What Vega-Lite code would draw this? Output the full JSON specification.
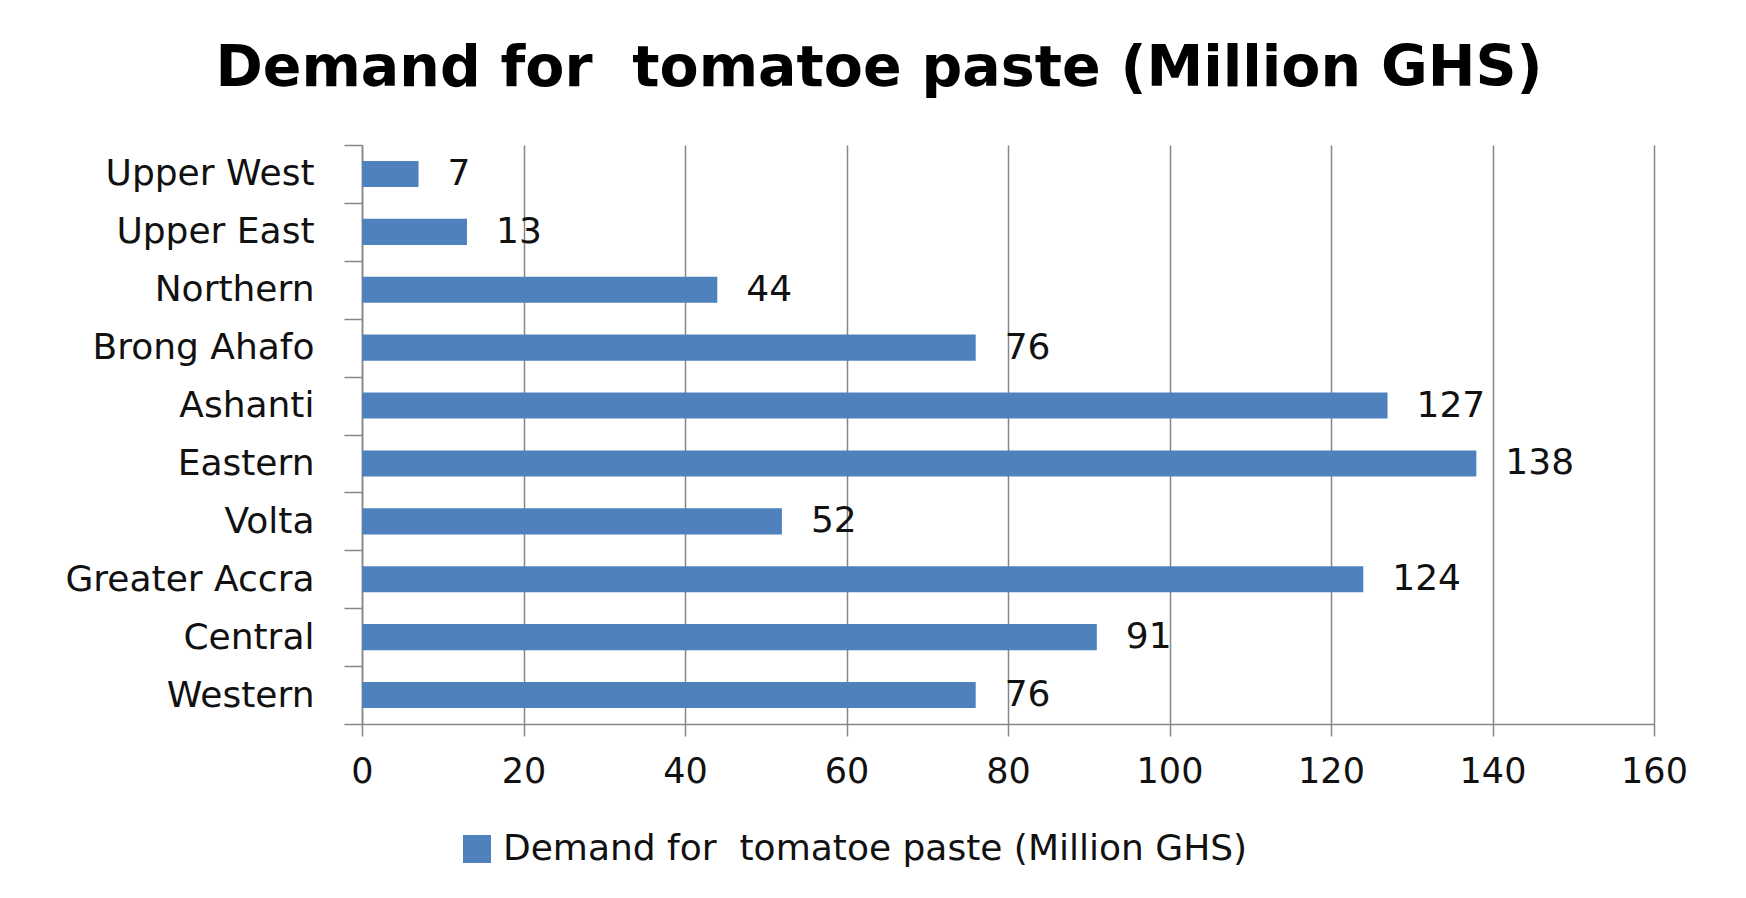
{
  "$schema": "https://vega.github.io/schema/vega-lite/v6.json",
  "width": 1292,
  "height": 579,
  "autosize": {"type": "none"},
  "padding": {"left": 362, "top": 145, "right": 92, "bottom": 174},
  "background": "white",
  "config": {"view": {"stroke": null}},
  "title": {
    "text": "Demand for\u00a0 tomatoe paste (Million GHS)",
    "font": "DejaVu Sans",
    "fontWeight": "bold",
    "fontSize": 57,
    "anchor": "middle",
    "dx": -129,
    "dy": 72,
    "baseline": "bottom",
    "offset": 44,
    "color": "black"
  },
  "data": {
    "values": [
      {"region": "Upper West", "demand": 7},
      {"region": "Upper East", "demand": 13},
      {"region": "Northern", "demand": 44},
      {"region": "Brong Ahafo", "demand": 76},
      {"region": "Ashanti", "demand": 127},
      {"region": "Eastern", "demand": 138},
      {"region": "Volta", "demand": 52},
      {"region": "Greater Accra", "demand": 124},
      {"region": "Central", "demand": 91},
      {"region": "Western", "demand": 76}
    ]
  },
  "encoding": {
    "y": {
      "field": "region",
      "type": "nominal",
      "sort": null,
      "scale": {"paddingInner": 0, "paddingOuter": 0},
      "axis": {
        "title": null,
        "tickBand": "extent",
        "tickSize": 18,
        "tickColor": "#868686",
        "tickWidth": 1.5,
        "domainColor": "#868686",
        "domainWidth": 1.5,
        "labelPadding": 30,
        "labelFont": "DejaVu Sans",
        "labelFontSize": 36,
        "labelColor": "#111111",
        "labelLimit": 0,
        "grid": false
      }
    },
    "x": {
      "field": "demand",
      "type": "quantitative",
      "scale": {"domain": [0, 160]},
      "axis": {
        "title": null,
        "values": [0, 20, 40, 60, 80, 100, 120, 140, 160],
        "tickSize": 12,
        "tickColor": "#868686",
        "tickWidth": 1.5,
        "domainColor": "#868686",
        "domainWidth": 1.5,
        "grid": true,
        "gridColor": "#868686",
        "gridWidth": 1.5,
        "labelFlush": false,
        "labelPadding": 18,
        "labelFont": "DejaVu Sans",
        "labelFontSize": 35,
        "labelColor": "#111111"
      }
    }
  },
  "layer": [
    {
      "mark": {"type": "bar", "height": {"band": 0.45}},
      "encoding": {
        "color": {
          "datum": "Demand for\u00a0 tomatoe paste (Million GHS)",
          "type": "nominal",
          "scale": {"range": ["#4F81BD"]},
          "legend": {
            "title": null,
            "orient": "none",
            "legendX": 97,
            "legendY": 686,
            "symbolType": "square",
            "symbolSize": 784,
            "symbolStrokeWidth": 0,
            "labelFont": "DejaVu Sans",
            "labelFontSize": 36,
            "labelColor": "#111111",
            "labelOffset": 8,
            "labelLimit": 0,
            "padding": 0
          }
        }
      }
    },
    {
      "mark": {"type": "text", "align": "left", "baseline": "middle", "dx": 29, "font": "DejaVu Sans", "fontSize": 36, "color": "#111111"},
      "encoding": {"text": {"field": "demand", "type": "quantitative"}}
    }
  ]
}
